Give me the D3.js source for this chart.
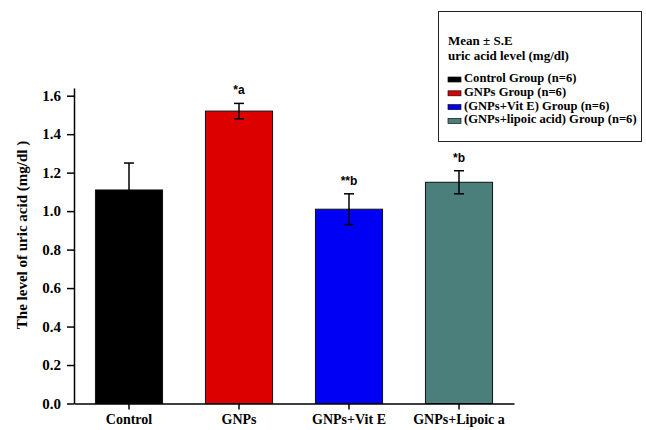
<!DOCTYPE html>
<html>
<head>
<meta charset="UTF-8" />
<title>Uric acid level</title>
<script src="https://d3js.org/d3.v7.min.js"></script>
<style>
  body { margin: 0; background: #fff; }
  .tick text { font-family: "Liberation Serif", serif; font-weight: bold; fill: #000; }
</style>
</head>
<body>
<svg id="chart" width="646" height="430"></svg>
<script>
// data
var groups = ["Control", "GNPs", "GNPs+Vit E", "GNPs+Lipoic a"];
var means = [1.11, 1.52, 1.01, 1.15];
var errors = [0.14, 0.04, 0.08, 0.06];
var marks = ["", "*a", "**b", "*b"];
var colors = ["#000000", "#dc0000", "#0000f5", "#4a7f7c"];
var legendLabels = ["Control Group (n=6)", "GNPs Group (n=6)", "(GNPs+Vit E) Group (n=6)", "(GNPs+lipoic acid) Group (n=6)"];
var yTicks = [0, 0.2, 0.4, 0.6, 0.8, 1.0, 1.2, 1.4, 1.6];

var svg = d3.select("#chart");

var x = d3.scaleBand().domain(groups).range([74, 514]).paddingInner(0.39).paddingOuter(0.195);
var y = d3.scaleLinear().domain([0, 1.64]).range([403.5, 88]);

// bars
svg.selectAll("rect.bar")
  .data(groups)
  .enter()
  .append("rect")
  .attr("class", "bar")
  .attr("x", function (d) { return x(d); })
  .attr("y", function (d, i) { return y(means[i]); })
  .attr("width", x.bandwidth())
  .attr("height", function (d, i) { return y(0) - y(means[i]); })
  .attr("fill", function (d, i) { return colors[i]; })
  .attr("stroke", "#111")
  .attr("stroke-width", 1);

// error bars
var eb = svg.selectAll("g.err").data(groups).enter().append("g").attr("class", "err");
eb.append("line")
  .attr("x1", function (d) { return x(d) + x.bandwidth() / 2; })
  .attr("x2", function (d) { return x(d) + x.bandwidth() / 2; })
  .attr("y1", function (d, i) { return y(means[i] + errors[i]); })
  .attr("y2", function (d, i) { return y(means[i] - errors[i]); })
  .attr("stroke", "#000").attr("stroke-width", 1.5);
[1, -1].forEach(function (s) {
  eb.append("line")
    .attr("x1", function (d) { return x(d) + x.bandwidth() / 2 - 5; })
    .attr("x2", function (d) { return x(d) + x.bandwidth() / 2 + 5; })
    .attr("y1", function (d, i) { return y(means[i] + s * errors[i]); })
    .attr("y2", function (d, i) { return y(means[i] + s * errors[i]); })
    .attr("stroke", "#000").attr("stroke-width", 1.5);
});

// significance letters
svg.selectAll("text.mark")
  .data(groups)
  .enter()
  .append("text")
  .attr("class", "mark")
  .attr("x", function (d) { return x(d) + x.bandwidth() / 2; })
  .attr("y", function (d, i) { return y(means[i] + errors[i]) - 9; })
  .attr("text-anchor", "middle")
  .style("font-family", "Liberation Sans, Arial, sans-serif")
  .style("font-weight", "bold")
  .style("font-size", "12px")
  .text(function (d, i) { return marks[i]; });

// axes
var yAxis = d3.axisLeft(y).tickValues(yTicks).tickFormat(d3.format(".1f")).tickSize(7).tickSizeOuter(0);
var gy = svg.append("g").attr("transform", "translate(74,0)").call(yAxis);
gy.selectAll(".tick text").attr("dx", "-3").style("font-size", "15px");
var xAxis = d3.axisBottom(x).tickSize(6).tickSizeOuter(0).tickPadding(5);
var gx = svg.append("g").attr("transform", "translate(0,403.5)").call(xAxis);
gx.selectAll(".tick text").style("font-size", "14px");
svg.selectAll(".domain, .tick line").attr("stroke", "#000").attr("stroke-width", 1.5);

// y axis title
svg.append("text")
  .attr("transform", "translate(27,235) rotate(-90)")
  .attr("text-anchor", "middle")
  .style("font-family", "Liberation Serif, serif")
  .style("font-weight", "bold")
  .style("font-size", "15px")
  .text("The level of uric acid (mg/dl )");

// legend
var lg = svg.append("g");
lg.append("rect")
  .attr("x", 438.5).attr("y", 11.5).attr("width", 203).attr("height", 130)
  .attr("fill", "#fff").attr("stroke", "#222").attr("stroke-width", 1);
lg.append("text").attr("x", 448).attr("y", 45).text("Mean \u00b1 S.E")
  .style("font-family", "Liberation Serif, serif").style("font-weight", "bold").style("font-size", "13px");
lg.append("text").attr("x", 448).attr("y", 60).text("uric acid level (mg/dl)")
  .style("font-family", "Liberation Serif, serif").style("font-weight", "bold").style("font-size", "13px");
var items = lg.selectAll("g.item").data(legendLabels).enter().append("g").attr("class", "item")
  .attr("transform", function (d, i) { return "translate(448," + (82 + i * 13.8) + ")"; });
items.append("rect").attr("x", 0).attr("y", -5).attr("width", 13).attr("height", 5)
  .attr("fill", function (d, i) { return colors[i]; }).attr("stroke", "#111").attr("stroke-width", 0.7);
items.append("text").attr("x", 16).attr("y", 0).text(function (d) { return d; })
  .style("font-family", "Liberation Serif, serif").style("font-weight", "bold").style("font-size", "12.6px");
</script>
</body>
</html>
